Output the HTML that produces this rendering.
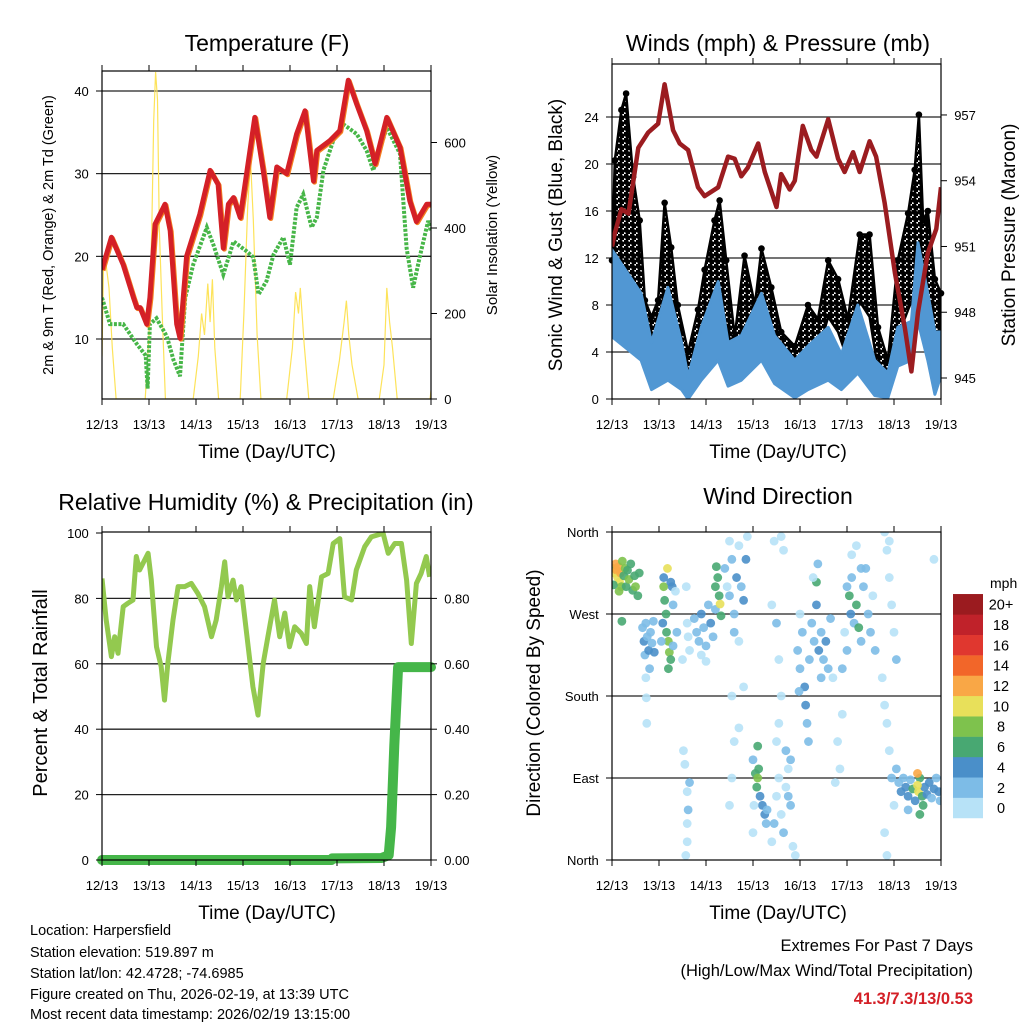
<!DOCTYPE html>
<html><head><meta charset="utf-8"><style>
html,body{margin:0;padding:0;background:#fff;width:1024px;height:1024px;overflow:hidden}
svg{display:block;font-family:"Liberation Sans",sans-serif}
</style></head><body>
<svg id="chart" width="1024" height="1024" viewBox="0 0 1024 1024" xmlns="http://www.w3.org/2000/svg">
<defs>
<pattern id="dots" width="6" height="6" patternUnits="userSpaceOnUse">
<circle cx="1.5" cy="1.5" r="3" fill="#000"/>
<circle cx="4.5" cy="4.5" r="3" fill="#000"/>
</pattern>
</defs>
<rect width="1024" height="1024" fill="#fff"/>
<text x="267" y="51" font-size="23" text-anchor="middle">Temperature (F)</text>
<text x="778" y="51" font-size="23" text-anchor="middle">Winds (mph) &amp; Pressure (mb)</text>
<text x="266" y="510" font-size="23" text-anchor="middle">Relative Humidity (%) &amp; Precipitation (in)</text>
<text x="778" y="504" font-size="23" text-anchor="middle">Wind Direction</text>
<text transform="translate(53,235) rotate(-90)" font-size="14.5" text-anchor="middle">2m &amp; 9m T (Red, Orange) &amp; 2m Td (Green)</text>
<text transform="translate(497,235) rotate(-90)" font-size="15" text-anchor="middle">Solar Insolation (Yellow)</text>
<text transform="translate(562,235) rotate(-90)" font-size="19" text-anchor="middle">Sonic Wind &amp; Gust (Blue, Black)</text>
<text transform="translate(1015,235) rotate(-90)" font-size="19" text-anchor="middle">Station Pressure (Maroon)</text>
<text transform="translate(47,693) rotate(-90)" font-size="20" text-anchor="middle">Percent &amp; Total Rainfall</text>
<text transform="translate(540,693) rotate(-90)" font-size="19" text-anchor="middle">Direction (Colored By Speed)</text>
<text x="267" y="458" font-size="19" text-anchor="middle">Time (Day/UTC)</text>
<text x="778" y="458" font-size="19" text-anchor="middle">Time (Day/UTC)</text>
<text x="267" y="919" font-size="19" text-anchor="middle">Time (Day/UTC)</text>
<text x="778" y="919" font-size="19" text-anchor="middle">Time (Day/UTC)</text>
<g font-size="14.5">
<text x="30" y="935">Location: Harpersfield</text>
<text x="30" y="957">Station elevation: 519.897 m</text>
<text x="30" y="978">Station lat/lon: 42.4728; -74.6985</text>
<text x="30" y="999">Figure created on Thu, 2026-02-19, at 13:39 UTC</text>
<text x="30" y="1019">Most recent data timestamp: 2026/02/19 13:15:00</text>
</g>
<text x="973" y="951" font-size="16.5" text-anchor="end">Extremes For Past 7 Days</text>
<text x="973" y="976" font-size="16.5" text-anchor="end">(High/Low/Max Wind/Total Precipitation)</text>
<text x="973" y="1004" font-size="16.5" font-weight="bold" fill="#d42027" text-anchor="end">41.3/7.3/13/0.53</text>
</svg>
<script>
const dayLabels = ["12/13","13/13","14/13","15/13","16/13","17/13","18/13","19/13"];
const tempDays = [0,0.2,0.45,0.67,0.74,0.81,0.95,1.02,1.13,1.34,1.45,1.59,1.66,1.8,2.08,2.3,2.47,2.58,2.69,2.8,2.94,3.25,3.43,3.57,3.72,3.93,4.14,4.32,4.5,4.57,4.85,5.06,5.24,5.42,5.63,5.81,6.06,6.34,6.55,6.69,6.91,7.0];
const tempVals = [18.4,22.3,19.0,15.0,13.8,13.8,11.8,15.0,23.9,26.3,23.1,11.8,10.1,20.0,25.1,30.4,28.7,21.0,26.3,27.1,24.7,36.8,30.4,24.7,30.8,30.0,34.8,37.6,29.1,32.8,34.0,35.2,41.3,38.4,35.2,31.2,36.8,33.2,26.7,24.2,26.3,26.3];
const dewDays = [0,0.17,0.45,0.74,0.93,0.97,1.02,1.16,1.38,1.52,1.66,1.77,1.94,2.23,2.37,2.58,2.8,3.08,3.22,3.33,3.5,3.65,3.86,4.0,4.14,4.28,4.46,4.57,4.71,4.92,5.13,5.42,5.63,5.77,6.06,6.34,6.48,6.62,6.76,6.94,7.0];
const dewVals = [15.0,11.8,11.8,9.4,8.0,4.0,11.8,12.5,10.3,7.5,5.5,15.0,19.0,23.5,21.4,17.8,21.8,20.6,19.9,15.4,17.0,20.2,22.3,19.0,25.9,27.5,23.5,24.7,30.4,34.0,36.0,34.8,32.8,30.4,35.6,32.4,21.0,16.2,19.9,24.3,23.0];
const solarDays = [0,0.03,0.08,0.15,0.22,0.3,0.92,1.0,1.06,1.1,1.14,1.18,1.22,1.28,1.35,1.94,2.05,2.12,2.18,2.25,2.3,2.35,2.4,2.48,2.94,3.02,3.1,3.16,3.22,3.3,3.38,3.93,4.05,4.12,4.18,4.22,4.3,4.4,4.92,5.05,5.15,5.2,5.25,5.32,5.45,5.9,6.0,6.06,6.12,6.18,6.28,6.98,7.0];
const solarVals = [100,300,320,260,120,0,0,150,400,650,765,700,400,200,0,0,100,200,150,270,180,280,120,0,0,200,450,560,420,150,0,0,120,250,200,260,130,0,0,90,180,230,150,80,0,0,80,260,180,120,0,0,20];
const tempTicks = [10,20,30,40];
const solarTicks = [0,200,400,600];
const windDays = [0,0.62,0.84,1.19,1.48,1.62,1.9,2.26,2.47,2.75,3.18,3.46,3.89,4.17,4.6,4.88,5.23,5.59,5.87,6.08,6.37,6.51,6.72,6.87,7.0];
const windHi = [12.7,9.0,4.8,9.5,4.8,1.9,6.1,10.0,4.8,5.4,9.0,5.4,3.3,4.5,6.1,3.8,8.0,3.3,2.2,6.1,6.6,13.3,9.0,5.7,5.7];
const windLo = [5.3,3.3,0.8,1.6,0.8,0,1.6,3.3,1.1,1.6,3.3,1.3,0.1,0.8,1.6,0.8,2.2,0.3,0.1,2.8,3.3,6.6,3.3,0.4,2.0];
const gustDays = [0,0.06,0.2,0.3,0.45,0.59,0.7,0.84,0.98,1.12,1.26,1.4,1.62,1.83,1.97,2.18,2.29,2.43,2.61,2.82,3.04,3.18,3.39,3.6,3.89,4.17,4.38,4.6,4.81,5.02,5.27,5.48,5.66,5.87,6.08,6.3,6.44,6.53,6.62,6.72,6.87,7.0];
const gustHi = [11.8,20.3,24.6,26,18.9,15.2,8.4,7.0,8.4,16.7,12.9,8.0,4.0,7.6,11.0,15.2,16.9,11.8,5.3,12.2,8.0,12.8,9.5,5.7,4.5,8.0,6.8,11.8,10.2,6.8,14.0,14.0,6.1,3.3,11.8,15.8,19.5,24.2,15.2,16.0,10.2,9.0];
const gustLo = [5.3,7.6,9.0,10.4,9.0,7.6,4.0,2.8,4.8,9.0,7.6,4.0,0.8,3.3,4.8,7.6,9.0,6.1,2.8,4.8,4.0,8.3,5.7,2.2,1.6,3.3,4.0,7.0,5.7,3.3,8.3,7.0,2.5,0.8,5.3,7.6,9.0,10.4,8.3,7.0,4.0,3.3];
const presDays = [0,0.06,0.2,0.35,0.56,0.77,0.98,1.12,1.3,1.44,1.62,1.83,1.97,2.26,2.47,2.61,2.75,2.89,3.11,3.25,3.5,3.6,3.78,3.89,4.06,4.24,4.35,4.6,4.81,4.95,5.13,5.27,5.48,5.62,5.8,6.02,6.23,6.37,6.51,6.72,6.9,7.0];
const presVals = [951.0,951.6,952.7,952.5,955.5,956.2,956.6,958.4,956.3,955.7,955.4,953.7,953.3,953.7,955.1,955.0,954.2,954.6,955.7,954.4,952.8,954.3,953.6,954.0,956.5,955.4,955.1,956.8,955.0,954.4,955.3,954.4,955.8,955.1,953.0,949.8,947.3,945.3,948.0,950.7,951.8,953.7];
const windTicks = [0,4,8,12,16,20,24];
const presTicks = [945,948,951,954,957];
const rhDays = [0,0.09,0.2,0.27,0.34,0.45,0.55,0.66,0.73,0.8,0.98,1.05,1.16,1.26,1.33,1.4,1.51,1.62,1.76,1.9,2.04,2.18,2.33,2.43,2.54,2.61,2.68,2.79,2.86,2.96,3.11,3.21,3.32,3.43,3.53,3.67,3.78,3.89,3.99,4.1,4.24,4.35,4.42,4.52,4.67,4.81,4.92,5.06,5.16,5.31,5.41,5.59,5.73,5.98,6.09,6.23,6.37,6.48,6.58,6.69,6.79,6.9,6.97];
const rhVals = [86.1,73.4,62.2,68.3,63.2,77.5,78.5,79.5,92.8,88.7,93.8,85.6,65.2,59.1,48.9,60.1,73.4,83.6,83.6,84.6,81.5,77.5,68.3,73.4,83.6,91.2,80.5,85.6,79.5,83.6,65.2,53.0,44.3,60.1,68.3,79.5,68.3,75.5,65.2,71.3,69.3,66.2,83.6,71.3,86.6,87.6,96.8,98.3,80.5,79.5,88.7,95.8,98.8,99.9,93.8,96.8,96.8,85.6,66.2,84.6,87.6,92.8,86.6];
const rainDays = [0,4.88,4.9,5.95,6.1,6.15,6.22,6.3,7.0];
const rainVals = [0,0,0.005,0.006,0.015,0.1,0.35,0.59,0.59];
const rhTicks = [0,20,40,60,80,100];
const rainTicks = ["0.00","0.20","0.40","0.60","0.80"];
const dirDays = [0.02,0.05,0.08,0.1,0.12,0.14,0.16,0.18,0.2,0.22,0.25,0.28,0.3,0.33,0.36,0.4,0.44,0.48,0.5,0.55,0.58,0.15,0.03,0.21,
0.65,0.68,0.7,0.72,0.75,0.78,0.8,0.82,0.85,0.88,0.9,0.72,0.73,0.74,
1.18,1.1,1.12,1.15,1.16,1.2,1.22,1.25,1.2,1.08,1.05,1.28,1.3,1.35,1.38,1.3,1.1,1.25,
1.55,1.58,1.6,1.62,1.65,1.5,1.52,1.55,1.6,1.62,1.6,1.57,1.65,1.6,
1.75,1.8,1.85,1.9,1.95,2.0,2.05,2.1,2.15,2.2,1.9,2.0,2.2,2.25,2.28,2.3,2.32,2.22,
2.4,2.45,2.5,2.55,2.6,2.65,2.7,2.75,2.8,2.85,2.88,2.9,2.6,2.7,2.5,2.55,2.6,2.5,2.55,2.7,2.8,
3.0,3.05,3.08,3.1,3.12,3.15,3.2,3.25,3.28,3.3,3.1,3.02,3.0,
3.4,3.45,3.5,3.55,3.6,3.65,3.7,3.75,3.8,3.85,3.9,3.5,3.6,3.55,3.7,3.8,3.75,3.45,3.6,3.65,3.4,3.5,3.55,
3.95,4.0,4.05,4.1,4.12,4.15,4.18,4.2,4.25,4.3,4.35,4.4,4.45,4.5,4.55,4.6,4.65,4.35,4.38,4.28,4.45,4.0,3.98,
4.75,4.8,4.85,4.9,4.7,4.95,5.0,4.9,
5.0,5.05,5.08,5.1,5.15,5.2,5.25,5.3,5.35,5.4,5.45,5.5,5.55,5.1,5.2,5.3,5.6,
5.8,5.85,5.9,5.95,6.0,5.75,5.8,5.85,5.9,5.95,6.0,5.8,5.85,6.05,6.05,5.9,
6.1,6.15,6.2,6.25,6.3,6.35,6.4,6.45,6.52,6.55,6.6,6.62,6.65,6.7,6.75,6.8,6.85,6.9,6.95,6.98,6.3,6.55,6.5,6.5,6.85];
const dirDeg = [320,315,325,318,310,322,305,315,300,328,312,320,300,318,308,325,296,312,300,290,315,295,302,262,
255,240,225,260,245,230,210,250,238,262,228,200,178,150,
320,300,285,270,250,240,228,220,210,260,240,300,280,295,250,235,310,305,
368,300,260,245,230,220,120,105,75,55,20,5,85,40,
265,250,240,270,255,235,280,260,245,275,225,218,300,310,290,281,268,322,
320,300,290,330,270,310,345,300,285,330,355,365,250,240,350,180,130,60,90,145,190,
110,95,80,90,100,70,60,50,40,55,125,60,30,
20,40,70,90,50,30,80,100,60,15,5,130,180,150,120,110,70,350,355,340,280,260,220,
230,210,250,190,170,150,130,220,260,240,280,230,250,220,240,210,265,305,325,310,200,270,185,
85,130,100,160,200,250,230,210,
300,290,270,310,260,280,255,240,300,320,270,250,290,335,345,320,230,
360,340,310,280,250,200,170,150,120,90,60,30,5,100,220,350,
85,75,90,80,70,88,78,65,75,90,70,60,80,72,85,68,78,90,75,65,55,50,95,82,330];
const dirSpeed = [9,11,12,13,11,12,10,13,9,8,7,8,7,7,8,7,6,6,8,6,7,8,6,6,
3,4,3,2,3,4,2,3,2,3,4,1,1,1,
10,8,7,7,6,8,8,7,6,5,3,4,2,1,2,2,5,4,
0,0,1,1,1,1,0,0,1,2,0,0,2,1,
2,3,2,4,3,2,3,4,2,3,1,1,7,7,6,10,6,6,
2,1,2,2,3,4,1,3,4,4,1,0,2,1,1,0,1,0,0,0,0,
3,6,7,8,6,4,4,4,3,3,6,1,0,
1,2,1,0,1,2,1,1,2,1,0,0,0,1,2,2,2,0,0,0,1,2,1,
2,3,3,4,4,3,3,3,2,3,5,4,3,3,4,3,3,6,2,1,2,1,2,
0,0,1,0,1,1,2,2,
3,7,4,3,2,6,7,2,2,2,3,2,1,1,1,2,2,
1,0,1,0,1,1,0,0,1,2,1,0,0,2,2,0,
3,4,3,5,4,3,6,4,10,7,6,7,5,4,4,3,4,3,4,2,3,6,12,11,0];
const dirTicks = ["North","East","South","West","North"];
const speedLabels = ["0","2","4","6","8","10","12","14","16","18","20+"];
const speedColors = ["#b7e2f7","#7dbce7","#4a8fc9","#48a872","#7ec24d","#e8e05a","#f9a746","#f26629","#e0372f","#c0222a","#9b1b1f"];

const NS = "http://www.w3.org/2000/svg";
const svg = document.getElementById("chart");
function mk(tag, attrs, parent) {
  const e = document.createElementNS(NS, tag);
  for (const k in attrs) e.setAttribute(k, attrs[k]);
  (parent || svg).appendChild(e);
  return e;
}
function pathFrom(xs, ys) {
  return xs.map((x, i) => (i ? "L" : "M") + x.toFixed(1) + "," + ys[i].toFixed(1)).join("");
}

const P1 = {x0:102, x1:431, y0:71, y1:399};
const P2 = {x0:612, x1:941, y0:64, y1:399};
const P3 = {x0:102, x1:431, y0:532, y1:860};
const P4 = {x0:612, x1:941, y0:532, y1:860};
const xDay = (p, d) => p.x0 + d * (p.x1 - p.x0) / 7;
const yTemp = t => 339 - (t - 10) * 8.267;
const ySolar = s => 399 - s * 0.4275;
const yWind = v => 399 - v * 11.75;
const yPres = p => 378 - (p - 945) * 21.92;
const yRH = r => 860 - r * 3.27;
const yRain = i => 860 - i * 327;
const yDir = d => 860 - d * 0.9111;

function clipFor(p, id) {
  const cp = mk("clipPath", {id: id});
  mk("rect", {x: p.x0, y: p.y0, width: p.x1 - p.x0, height: p.y1 - p.y0}, cp);
}
clipFor(P1, "c1"); clipFor(P2, "c2"); clipFor(P3, "c3"); clipFor(P4, "c4");

function xAxis(p, name) {
  const g = mk("g", {});
  
  
  dayLabels.forEach((lab, i) => {
    const x = xDay(p, i);
    mk("line", {x1: x, x2: x, y1: p.y1, y2: p.y1 + 6, stroke: "#000", "stroke-width": 1}, g);
    mk("line", {x1: x, x2: x, y1: p.y0, y2: p.y0 - 6, stroke: "#000", "stroke-width": 1}, g);
    const t = mk("text", {x: x, y: p.y1 + 30, "font-size": 13, "text-anchor": "middle"}, g);
    t.textContent = lab;
  });
}
function hGrid(p, ys, name) {
  const g = mk("g", {});
  
  
  ys.forEach(y => mk("line", {x1: p.x0, x2: p.x1, y1: y, y2: y, stroke: "#222", "stroke-width": 1.3}, g));
}
function yTicks(p, vals, fy, side, labels, name, fs) {
  const g = mk("g", {});
  
  
  vals.forEach((v, i) => {
    const y = fy(v);
    const x = side === "left" ? p.x0 : p.x1;
    const dx = side === "left" ? -6 : 6;
    mk("line", {x1: x, x2: x + dx, y1: y, y2: y, stroke: "#000", "stroke-width": 1}, g);
    const t = mk("text", {x: x + dx * 2.2, y: y + 5, "font-size": fs || 13, "text-anchor": side === "left" ? "end" : "start"}, g);
    t.textContent = labels ? labels[i] : String(v);
  });
}
function frame(p, name) {
  const r = mk("rect", {x: p.x0, y: p.y0, width: p.x1 - p.x0, height: p.y1 - p.y0, fill: "none", stroke: "#000", "stroke-width": 1.2});
  
  
}

// Panel 1
hGrid(P1, tempTicks.map(yTemp), "temp-gridlines");
const solarPath = mk("path", {d: pathFrom(solarDays.map(d => xDay(P1, d)), solarVals.map(ySolar)), fill: "none", stroke: "#fde35a", "stroke-width": 1.2, "clip-path": "url(#c1)"});


const dewPath = mk("path", {d: pathFrom(dewDays.map(d => xDay(P1, d)), dewVals.map(yTemp)), fill: "none", stroke: "#47b648", "stroke-width": 4, "stroke-dasharray": "3 1.5", "clip-path": "url(#c1)"});


const t9Path = mk("path", {d: pathFrom(tempDays.map(d => xDay(P1, d) + 1), tempVals.map(v => yTemp(v) + 1)), fill: "none", stroke: "#f47f20", "stroke-width": 5, "stroke-linejoin": "round", "clip-path": "url(#c1)"});


const t2Path = mk("path", {d: pathFrom(tempDays.map(d => xDay(P1, d)), tempVals.map(yTemp)), fill: "none", stroke: "#d42027", "stroke-width": 5, "stroke-linejoin": "round", "clip-path": "url(#c1)"});


frame(P1, "temp-plot-frame");
xAxis(P1, "temp-x-axis");
yTicks(P1, tempTicks, yTemp, "left", null, "temp-y-axis");
yTicks(P1, solarTicks, ySolar, "right", null, "solar-y-axis");

// Panel 2
hGrid(P2, windTicks.slice(1).map(yWind), "wind-gridlines");
const gx = gustDays.map(d => xDay(P2, d));
const gustBand = mk("path", {d: pathFrom(gx.concat(gx.slice().reverse()), gustHi.map(yWind).concat(gustLo.map(yWind).reverse())) + "Z", fill: "url(#dots)", stroke: "#000", "stroke-width": 2.5, "stroke-linejoin": "round", "clip-path": "url(#c2)"});


gustDays.forEach((d, i) => {
  const c = mk("circle", {cx: xDay(P2, d), cy: yWind(gustHi[i]), r: 3.3, fill: "#000"});
  
  
});
const wx = windDays.map(d => xDay(P2, d));
const windBand = mk("path", {d: pathFrom(wx.concat(wx.slice().reverse()), windHi.map(yWind).concat(windLo.map(yWind).reverse())) + "Z", fill: "#5197d3", stroke: "#5197d3", "stroke-width": 3, "stroke-linejoin": "round", "clip-path": "url(#c2)"});


const presPath = mk("path", {d: pathFrom(presDays.map(d => xDay(P2, d)), presVals.map(yPres)), fill: "none", stroke: "#9b1c20", "stroke-width": 4.5, "stroke-linejoin": "round", "clip-path": "url(#c2)"});


frame(P2, "wind-plot-frame");
xAxis(P2, "wind-x-axis");
yTicks(P2, windTicks, yWind, "left", null, "wind-y-axis");
yTicks(P2, presTicks, yPres, "right", null, "pressure-y-axis");

// Panel 3
hGrid(P3, [20, 40, 60, 80].map(yRH), "humidity-gridlines");
const rhPath = mk("path", {d: pathFrom(rhDays.map(d => xDay(P3, d)), rhVals.map(yRH)), fill: "none", stroke: "#93c94f", "stroke-width": 5, "stroke-linejoin": "round", "clip-path": "url(#c3)"});


const rainPath = mk("path", {d: pathFrom(rainDays.map(d => xDay(P3, d)), rainVals.map(yRain)), fill: "none", stroke: "#45b649", "stroke-width": 10, "stroke-linejoin": "round", "stroke-linecap": "round"});


frame(P3, "humidity-plot-frame");
xAxis(P3, "humidity-x-axis");
yTicks(P3, rhTicks, yRH, "left", null, "humidity-y-axis");
yTicks(P3, [0, 0.2, 0.4, 0.6, 0.8], yRain, "right", rainTicks, "rain-y-axis");

// Panel 4
hGrid(P4, [90, 180, 270].map(yDir), "direction-gridlines");
function speedColor(s) {
  let i = Math.floor(s / 2);
  if (i > 10) i = 10;
  return speedColors[i];
}
const dg = mk("g", {"clip-path": "url(#c4)"});


dirDays.forEach((d, i) => {
  const c = mk("circle", {cx: xDay(P4, d), cy: yDir(dirDeg[i]), r: 4.4, fill: speedColor(dirSpeed[i]), "fill-opacity": 0.9}, dg);
  
  
});
frame(P4, "direction-plot-frame");
xAxis(P4, "direction-x-axis");
yTicks(P4, [0, 90, 180, 270, 360], yDir, "left", dirTicks, "direction-y-axis");

const lg = mk("g", {});


const lt = mk("text", {x: 990, y: 588, "font-size": 14}, lg);
lt.textContent = "mph";
speedLabels.forEach((lab, i) => {
  const y = 818 - (i + 1) * 20.36;
  const r = mk("rect", {x: 953, y: y, width: 30, height: 20.6, fill: speedColors[i]}, lg);
  
  
  const t = mk("text", {x: 1001, y: y + 15.5, "font-size": 14.5, "text-anchor": "middle"}, lg);
  
  
  t.textContent = lab;
});
</script>
</body></html>
